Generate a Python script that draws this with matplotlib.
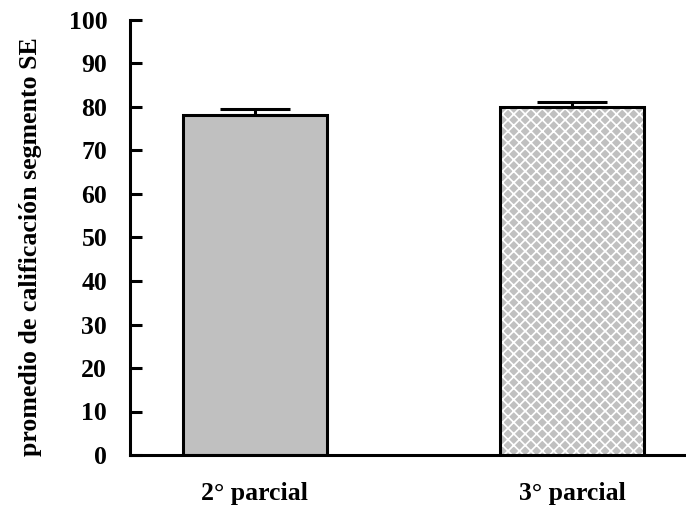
import matplotlib.pyplot as plt

# data
groups = ["2° parcial", "3° parcial"]
means = [78.2, 80.0]
errors = [1.3, 1.1]
y_ticks = [0, 10, 20, 30, 40, 50, 60, 70, 80, 90, 100]


def create_plot():
    dpi = 137
    plt.rcParams["font.family"] = ["Liberation Serif", "DejaVu Serif"]
    plt.rcParams["font.weight"] = "bold"
    plt.rcParams["hatch.linewidth"] = 0.9

    fig = plt.figure(figsize=(686 / dpi, 511 / dpi), dpi=dpi)
    ax = fig.add_axes([130 / 686, 1 - 455 / 511, 1 - 130 / 686, (455 - 20) / 511])

    x = list(range(len(groups)))
    width = 0.455

    # plain grey bar
    ax.bar(x[0], means[0], width, color="#c0c0c0", edgecolor="black", linewidth=1.6, zorder=2)

    # cross-hatched bar: grey fill, white hatch, black outline
    ax.bar(x[1], means[1], width, color="#c0c0c0", linewidth=0, zorder=2)
    ax.bar(x[1], means[1], width, color="none", edgecolor="white", hatch="xxxx", linewidth=0, zorder=3)
    ax.bar(x[1], means[1], width, color="none", edgecolor="black", linewidth=1.6, zorder=4)

    ax.errorbar(x, means, yerr=[[0, 0], errors], fmt="none", ecolor="black",
                elinewidth=1.6, capsize=18.5, capthick=1.6, zorder=5)

    ax.set_xlim(-0.394, 1.36)
    ax.set_ylim(0, 100)
    ax.set_yticks(y_ticks)
    ax.set_xticks(x)
    ax.set_xticklabels(groups, fontsize=13.5, fontweight="bold")
    ax.tick_params(axis="x", length=0, pad=14)
    ax.tick_params(axis="y", direction="in", length=6.5, width=1.6, pad=12, labelsize=13.5)

    ax.spines["top"].set_visible(False)
    ax.spines["right"].set_visible(False)
    ax.spines["left"].set_linewidth(1.6)
    ax.spines["bottom"].set_linewidth(1.6)

    ax.set_ylabel("promedio de calificación segmento SE", fontsize=13.6, fontweight="bold")
    ax.yaxis.set_label_coords(-0.158, 0.48)

    plt.savefig("out.png", dpi=dpi)


def main():
    create_plot()


if __name__ == "__main__":
    main()
